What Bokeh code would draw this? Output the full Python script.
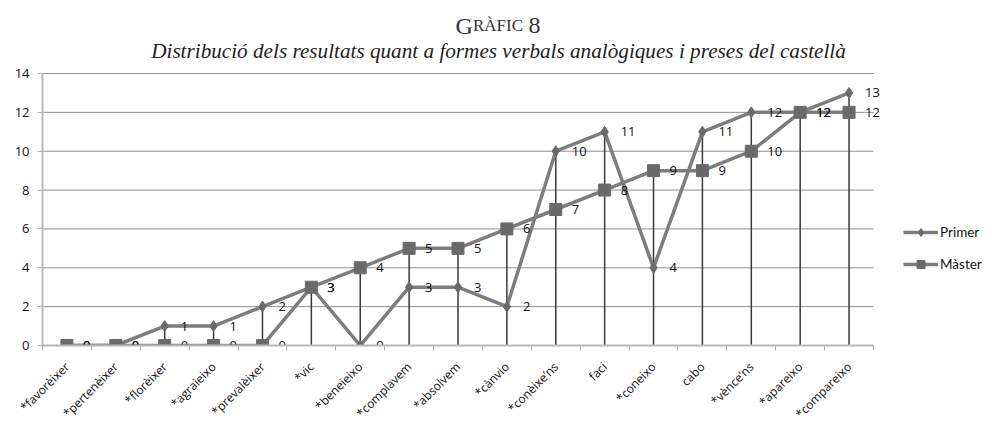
from math import pi
from bokeh.plotting import figure
from bokeh.models import FixedTicker, Legend, LegendItem, Range1d
from bokeh.core.properties import value
from bokeh.embed import file_html
from bokeh.resources import INLINE

categories = ["*favorèixer", "*pertenèixer", "*florèixer", "*agraieixo", "*prevalèixer",
              "*vic", "*beneieixo", "*complavem", "*absolvem", "*cànvio", "*conèixe’ns",
              "faci", "*coneixo", "cabo", "*vènce’ns", "*apareixo", "*compareixo"]
primer = [0, 0, 1, 1, 2, 3, 0, 3, 3, 2, 10, 11, 4, 11, 12, 12, 13]
master = [0, 0, 0, 0, 0, 3, 4, 5, 5, 6, 7, 8, 9, 9, 10, 12, 12]
y_ticks = [0, 2, 4, 6, 8, 10, 12, 14]
subtitle_text = "Distribució dels resultats quant a formes verbals analògiques i preses del castellà"

n = len(categories)
xs = list(range(n))
tops = [max(a, b) for a, b in zip(primer, master)]

# layout (pixels)
W = 990
LEFT = 42            # plot area left edge
PLOT_W = 831         # width of the category band
FRAME_H = 345        # y=0 line distance from top
PLOT_H = 272         # height 0..14
X_PX = PLOT_W / n
Y_PX = PLOT_H / y_ticks[-1]
FRAME_W = W - LEFT

def sx(px):
    return -0.5 + (px - LEFT) / X_PX

def sy(py):
    return (FRAME_H - py) / Y_PX

p = figure(frame_width=FRAME_W, frame_height=FRAME_H,
           x_range=Range1d(-0.5, sx(W)), y_range=Range1d(0, sy(0)),
           output_backend="svg", toolbar_location=None,
           min_border_left=LEFT, min_border_right=0, min_border_top=0, min_border_bottom=0)
p.outline_line_color = None
p.background_fill_color = "white"

# grid lines limited to the plot band
p.segment(x0=[-0.5] * len(y_ticks), x1=[n - 0.5] * len(y_ticks), y0=y_ticks, y1=y_ticks,
          line_color="#8e8e8e", line_width=1)

# titles (small caps imitation)
serif = value("Liberation Serif")
p.text([sx(455)], [sy(25)], text=["G"], text_font=serif, text_font_size="24px",
       text_baseline="alphabetic", text_align="left", text_color="#333333")
p.text([sx(472.5)], [sy(25)], text=["RÀFIC"], text_font=serif, text_font_size="17px",
       text_baseline="alphabetic", text_align="left", text_color="#333333")
p.text([sx(528)], [sy(25)], text=["8"], text_font=serif, text_font_size="24px",
       text_baseline="alphabetic", text_align="left", text_color="#333333")
p.text([sx(498)], [sy(50)], text=[subtitle_text], text_font=serif, text_font_size="21.2px",
       text_font_style="italic", text_baseline="alphabetic", text_align="center",
       text_color="#222222")

# drop lines
p.segment(x0=xs, y0=[0] * n, x1=xs, y1=tops, line_color="#3a3a3a", line_width=1.5)

line_col = "#7d7d7d"
mark_col = "#6a6a6a"
lp = p.line(xs, primer, line_color=line_col, line_width=3.5)
sp = p.scatter(xs, primer, marker="diamond", size=11, fill_color=mark_col, line_color=mark_col)
lm = p.line(xs, master, line_color=line_col, line_width=3.5)
sm = p.scatter(xs, master, marker="square", size=12, fill_color=mark_col, line_color=mark_col)

font = value("Open Sans")
p.text(xs, primer, text=[str(v) for v in primer], x_offset=16, text_baseline="middle",
       text_font_size="13px", text_font=font, text_color="#111111")
p.text(xs, master, text=[str(v) for v in master], x_offset=16, text_baseline="middle",
       text_font_size="13px", text_font=font, text_color="#111111")

# axes
p.yaxis.bounds = (0, y_ticks[-1])
p.yaxis.ticker = FixedTicker(ticks=y_ticks)
p.yaxis.axis_line_color = "#b8b8b8"
p.yaxis.axis_line_width = 2
p.yaxis.major_tick_line_color = "#b0b0b0"
p.yaxis.major_tick_out = 5
p.yaxis.major_tick_in = 0
p.yaxis.minor_tick_line_color = None
p.yaxis.major_label_standoff = 8
p.yaxis.major_label_text_font = "Open Sans"
p.yaxis.major_label_text_font_size = "13px"
p.yaxis.major_label_text_color = "#111111"

p.xaxis.bounds = (-0.5, n - 0.5)
p.xaxis.ticker = FixedTicker(ticks=xs, minor_ticks=[i - 0.5 for i in range(n + 1)])
p.xaxis.major_label_overrides = {i: c for i, c in enumerate(categories)}
p.xaxis.major_label_orientation = pi / 4
p.xaxis.major_tick_line_color = None
p.xaxis.major_tick_out = 0
p.xaxis.major_tick_in = 0
p.xaxis.minor_tick_line_color = "#b0b0b0"
p.xaxis.minor_tick_out = 5
p.xaxis.minor_tick_in = 0
p.xaxis.axis_line_color = "#b8b8b8"
p.xaxis.axis_line_width = 2
p.xaxis.major_label_text_font = "Open Sans"
p.xaxis.major_label_text_font_size = "12px"
p.xaxis.major_label_text_color = "#111111"
p.xaxis.major_label_standoff = 14

p.xgrid.grid_line_color = None
p.ygrid.grid_line_color = None

legend = Legend(items=[LegendItem(label="Primer", renderers=[lp, sp]),
                       LegendItem(label="Màster", renderers=[lm, sm])],
                location=(861, 71), padding=0, margin=0, spacing=12,
                glyph_width=35, glyph_height=20, label_standoff=2,
                label_text_font="Lato", label_text_font_size="13.5px",
                label_text_color="#111111", border_line_color=None,
                background_fill_alpha=0)
p.add_layout(legend, "center")

open("out.html", "w").write(file_html(p, INLINE))
